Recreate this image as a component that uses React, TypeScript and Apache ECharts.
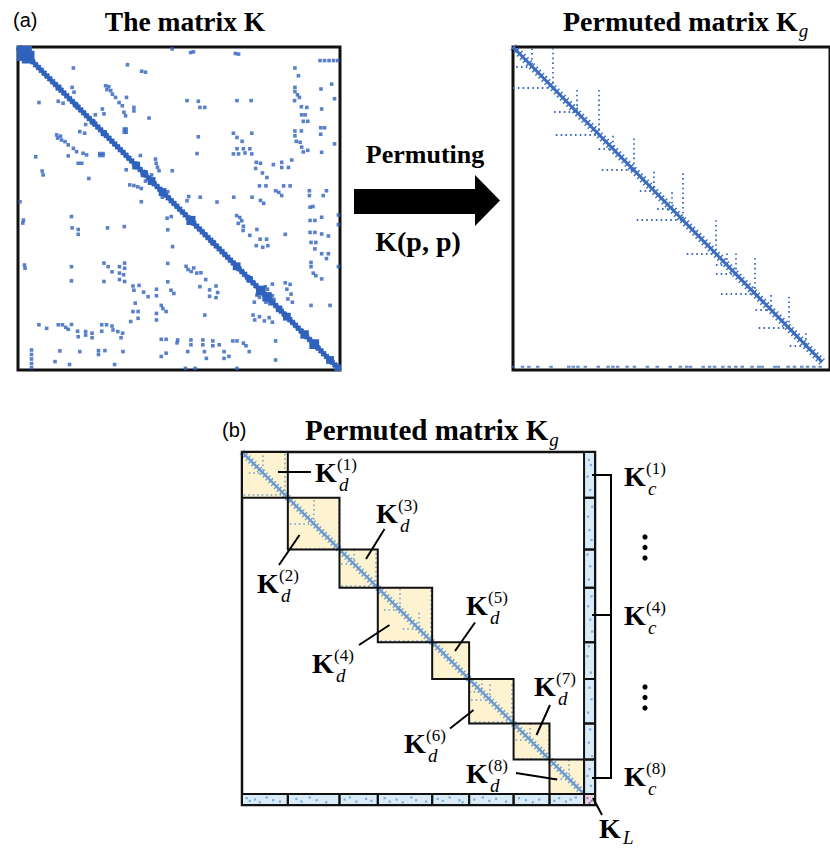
import React, { useEffect, useRef } from 'react';
import * as echarts from 'echarts';

const SERIF = '"Liberation Serif", "Times New Roman", Times, serif';
const SANS = '"Liberation Sans", Arial, Helvetica, sans-serif';

const BLUE = '#2f62bd';
const KG_BLUE = '#3b6cc0';
const PART_BLUE = '#6b9bd0';
const BLOCK_FILL = '#fdf3d0';
const STRIP_FILL = '#d8ebf7';
const CORNER_FILL = '#f1d5e6';

// ---------- (a) matrix K, coordinates in percent of the matrix order ----------
const kDiagonal = [[0, 0], [100, 100]];
// dense square clusters sitting on the diagonal: [first, last]
const kDiagBlocks = [
  [0, 4], [1.5, 4.8], [12, 13.2], [17.6, 18.5], [22.8, 23.8], [26, 27.3],
  [35.8, 37.6], [38.4, 40], [40.6, 42.4], [44, 45.8], [52.6, 54.8], [60, 61],
  [67, 68.8], [71.2, 72.6], [74.2, 76.6], [76.2, 78.5], [80.4, 81.8], [82.6, 84.4],
  [88, 90], [90.8, 93.2], [96, 97.8], [98.6, 100],
];
// off-diagonal entries of the upper triangle: [column, row]
const kUpperEntries = [
  [47.9, 0.6], [53.6, 1.7], [54.5, 1.5], [67.5, 2], [68.5, 2.2],
  [34, 5.5], [38.4, 7.5], [39.6, 7.8], [17.2, 6.5], [16.8, 12.5], [17.4, 14],
  [86, 6.5], [87.1, 8.9], [93.8, 4.2], [95.2, 4.2], [96.6, 4.2], [98, 4.2], [99.3, 4.2],
  [27.2, 12], [28.2, 12.3], [27.6, 13.2], [28.8, 13.5], [29.3, 14.6], [30.3, 15.6],
  [31.4, 17.2], [32.4, 18.2], [32.9, 20.2], [33.4, 21.3], [33.7, 15.6], [36, 18.7], [36, 19.8],
  [40.7, 22], [26.2, 19.2], [26.7, 20.7], [24, 21],
  [33, 25.4], [33.6, 25.4], [33, 26.4], [33.6, 26.4],
  [42.7, 34.7], [42.9, 36], [43.3, 37.2], [43.8, 38.3], [47.9, 38.3], [38, 33.6],
  [86, 12.5], [86, 13.8], [86.8, 14.8], [87.4, 15.6], [94.1, 13], [97.4, 11.5], [98.3, 16],
  [52.5, 16.6], [56, 16.8], [56.5, 18.7], [58, 18.7], [68, 16.6], [72.4, 16.6],
  [85.9, 16.6], [88, 18.5], [89.7, 18.7], [94.3, 19.2], [88.1, 21], [89.2, 21], [88.6, 23], [90, 23],
  [56, 27.8], [55.6, 33],
  [66.9, 26.7], [68, 28], [69.6, 29.2], [72.6, 26.7], [68, 31.5], [70, 31.5], [72, 31.5],
  [70.5, 32.8], [66.9, 33.1], [68.5, 33.1], [72.6, 33.1],
  [86, 26], [86, 27.5], [86.4, 29.2], [87.6, 29.5], [88, 26], [88.1, 31], [88.6, 32.5], [90, 32],
  [94, 25], [94, 27], [95.2, 25], [98.3, 30], [94.3, 32.6],
  [74, 35.7], [75.3, 36], [73.8, 37.6], [75.9, 39], [77.3, 40.4],
  [79.3, 36.4], [81.9, 35.7], [81.9, 37.3], [84, 37.3], [85, 35],
  [75, 43], [77, 43], [80, 44.5], [81, 45], [81.9, 46], [82.5, 43], [84.5, 43],
  [90.5, 44.5], [90.5, 46], [95.8, 44.5], [94.8, 46],
  [67, 46.5], [72.7, 46.5], [75.3, 47.5], [76.3, 48.4], [91.6, 49.4],
  [53, 46.3], [56.6, 46.5], [52.5, 47.6], [61.8, 48],
  [90.7, 49.6], [90.7, 53.7], [92.2, 53.7], [94.3, 52.7], [99.5, 52], [99.5, 55],
  [90.7, 57.4], [92.2, 57.4], [94.3, 57.9], [96.4, 58.5],
  [91, 60.5], [92.5, 60.5], [92.2, 62.5], [94.3, 64], [96.4, 64],
  [67.9, 52.2], [68.9, 52.8], [69.5, 53.8], [68.4, 54.6], [70, 55.5], [69.9, 56.8],
  [72, 58.3], [74.2, 56.5], [75.2, 59.5], [77.2, 59.5],
  [74, 61.5], [77.6, 61.5], [76, 62], [83, 58],
  [91, 66.7], [91, 68], [91.7, 70], [92.5, 70.8], [94.3, 71.8], [95.8, 65.5], [99.5, 68],
  [83, 73], [84.5, 73.5], [83.5, 75], [84.8, 76.5], [83.8, 78], [85.2, 79], [79, 73.4], [79, 77],
  [91, 80], [96.9, 80], [77.5, 75], [76.8, 74.2], [79.5, 78.2], [46.5, 44.8], [41.5, 39.6],
];

// ---------- (a) permuted matrix Kg, percent coordinates ----------
const kgDiagonal = [[0, 0], [97.5, 97.5]];
// fill-in runs: [pivot, first row of the column run, first column of the row run]
const kgSpikes = [
  [6, 0.4, 1], [12.6, 0.3, 0], [20, 13.3, 13], [27.2, 13.3, 13.5], [31.6, 27.5, 27],
  [38.1, 28.3, 28], [44.5, 38.6, 40], [50, 45, 45.5], [53.5, 39.1, 39], [63.9, 53.6, 54.8],
  [67.5, 63.9, 64], [70.2, 63.9, 64], [76.3, 65.4, 65.6], [81.2, 76.8, 76.5], [87, 77.3, 77.5],
  [92.5, 88.6, 87.3],
];
const kgCouplingRow = 99;
const kgCouplingCols = [
  0, 3, 5, 7.8, 12, 17.6, 19, 20.5, 22.8, 26.9, 30, 31.5, 33, 36, 38.3, 42.4, 45.5, 49.6,
  52.8, 54.8, 56, 60, 62, 63.6, 66.2, 68.2, 70.3, 72.3, 75.4, 77.5, 78.6, 82.6, 83.7, 86.8,
  88.8, 91.1, 92.9, 94.9, 96.9,
];

// ---------- (b) partitioned Kg: interior 0..1000, coupling strip 1000..1032 ----------
const blockEdges = [0, 134, 285, 397, 556, 664, 794, 899, 1000];
const stripEnd = 1032;
const partDiagonal = [[0, 0], [1000, 1000]];
const partSpikes = [
  [60, 10, 20], [125, 5, 5], [210, 140, 140], [282, 140, 145], [327, 285, 290],
  [392, 295, 290], [460, 400, 415], [518, 470, 470], [553, 405, 405], [662, 556, 570],
  [700, 664, 664], [723, 680, 670], [790, 680, 680], [840, 794, 800], [898, 800, 805],
  [955, 900, 905],
];
const bottomStripDots = [
  [14, 1012], [23, 1020], [38, 1016], [52, 1024], [72, 1010], [91, 1018], [111, 1022],
  [159, 1014], [174, 1022], [198, 1010], [218, 1018], [246, 1024],
  [300, 1016], [315, 1010], [334, 1022], [363, 1014], [378, 1020],
  [417, 1012], [432, 1022], [452, 1016], [470, 1024], [495, 1010], [509, 1018], [538, 1022],
  [572, 1014], [587, 1020], [607, 1010], [636, 1018], [645, 1024],
  [679, 1016], [704, 1010], [723, 1020], [743, 1014], [772, 1022],
  [810, 1012], [830, 1018], [850, 1024], [869, 1016],
  [913, 1020], [927, 1012], [947, 1022], [961, 1016], [976, 1010],
];
const rightStripDots = [
  [1014, 23], [1020, 38], [1010, 72], [1018, 111], [1024, 160], [1012, 189], [1016, 228],
  [1022, 257], [1010, 300], [1018, 334], [1014, 373], [1022, 422], [1012, 451], [1018, 490],
  [1024, 525], [1014, 568], [1010, 597], [1020, 645], [1016, 689], [1022, 723], [1012, 762],
  [1018, 811], [1014, 850], [1024, 889], [1016, 927], [1010, 947], [1020, 976],
];
const cornerDots = [[1010, 1012], [1022, 1020], [1016, 1026]];

function spikeLines(spikes: number[][]) {
  const out: any[] = [];
  spikes.forEach(([p, vStart, hStart]) => {
    out.push({ coords: [[p, vStart], [p, p]] });
    out.push({ coords: [[hStart, p], [p, p]] });
  });
  return out;
}

function textWidth(text: string, font: string) {
  const ctx = document.createElement('canvas').getContext('2d');
  if (!ctx) return text.length * 12;
  ctx.font = font;
  return ctx.measureText(text).width;
}

function txt(x: number, y: number, text: string, font: string, align = 'left') {
  return {
    type: 'text', z: 20, x, y,
    style: { text, font, fill: '#000', textAlign: align, textVerticalAlign: 'middle' },
  };
}

// bold K with an italic subscript and an optional superscript
function kSymbol(x: number, capTop: number, sub: string, sup?: string, subDrop = 21) {
  const els: any[] = [txt(x, capTop + 9.3, 'K', `bold 28px ${SERIF}`)];
  if (sup) els.push(txt(x + 22, capTop + 1.5, `(${sup})`, `17px ${SERIF}`));
  els.push(txt(x + 24, capTop + subDrop, sub, `italic 19px ${SERIF}`));
  return els;
}

function seg(x1: number, y1: number, x2: number, y2: number, w = 2) {
  return { type: 'line', z: 20, shape: { x1, y1, x2, y2 }, style: { stroke: '#000', lineWidth: w } };
}

function titleWithSub(x: number, y: number, size: number) {
  const font = `bold ${size}px ${SERIF}`;
  const main = 'Permuted matrix K';
  const w = textWidth(main, font);
  return [txt(x, y, main, font), txt(x + w + 1, y + 9.5, 'g', `italic 19px ${SERIF}`)];
}

function rectItem(fill: string | null, stroke: string | null, lw: number, pad = 0) {
  return (params: any, api: any) => {
    const p0 = api.coord([api.value(0), api.value(2)]);
    const p1 = api.coord([api.value(1), api.value(3)]);
    return {
      type: 'rect',
      shape: { x: p0[0] - pad, y: p0[1] - pad, width: p1[0] - p0[0] + 2 * pad, height: p1[1] - p0[1] + 2 * pad },
      style: { fill: fill || 'none', stroke: stroke || 'none', lineWidth: lw },
    };
  };
}

function buildOption() {
  const kPoints = kUpperEntries.flatMap(([c, r]) => [[c, r], [r, c]]);
  const kBlockRects = kDiagBlocks.map(([s, e]) => [s, e, s, e]);
  const blocks = blockEdges.slice(0, -1).map((s, i) => [s, blockEdges[i + 1], s, blockEdges[i + 1]]);
  const last = blockEdges[blockEdges.length - 1];
  const strips = [
    ...blockEdges.slice(0, -1).map((s, i) => [last, stripEnd, s, blockEdges[i + 1]]),
    ...blockEdges.slice(0, -1).map((s, i) => [s, blockEdges[i + 1], last, stripEnd]),
  ];
  const corner = [[last, stripEnd, last, stripEnd]];
  const kgCoupling = kgCouplingCols.map((c) => [c, kgCouplingRow]);

  const axisBase = { type: 'value', show: false, min: 0 };
  const rectEncode = { x: [0, 1], y: [2, 3] };

  const graphic: any[] = [
    txt(13, 20, '(a)', `20px ${SANS}`),
    txt(185, 21, 'The matrix K', `bold 27.5px ${SERIF}`, 'center'),
    ...titleWithSub(563, 21, 28),
    txt(425, 154.5, 'Permuting', `bold 26px ${SERIF}`, 'center'),
    { type: 'rect', z: 20, shape: { x: 354, y: 189, width: 122, height: 25 }, style: { fill: '#000' } },
    { type: 'polygon', z: 20, shape: { points: [[475, 175], [500, 200.5], [475, 226]] }, style: { fill: '#000' } },
    txt(418, 241, 'K(p, p)', `bold 28px ${SERIF}`, 'center'),
    txt(222, 430, '(b)', `20px ${SANS}`),
    ...titleWithSub(305, 430, 29),
    // block labels and their leaders
    ...kSymbol(315, 463, 'd', '1'), seg(278, 472, 311, 472),
    ...kSymbol(257, 574, 'd', '2'), seg(279, 565, 299.5, 535),
    ...kSymbol(376, 504, 'd', '3'), seg(366, 559, 384.5, 529),
    ...kSymbol(312, 654, 'd', '4'), seg(359, 645, 389.5, 625),
    ...kSymbol(466, 596, 'd', '5'), seg(455, 651, 475, 622.5),
    ...kSymbol(404, 734, 'd', '6'), seg(450, 728.5, 473.5, 710),
    ...kSymbol(534, 677, 'd', '7'), seg(536.5, 735, 550, 705),
    ...kSymbol(466, 764, 'd', '8'), seg(516, 773, 557, 779.5),
    // coupling blocks
    ...kSymbol(624, 467, 'c', '1'),
    ...kSymbol(624, 606, 'c', '4'),
    ...kSymbol(624, 767, 'c', '8'),
    seg(611, 474, 611, 779), seg(592, 475, 612, 475), seg(592, 615, 612, 615), seg(592, 778, 612, 778),
    ...[537, 547.5, 558, 687, 697.5, 708].map((cy) => ({
      type: 'circle', z: 20, shape: { cx: 645, cy, r: 2.6 }, style: { fill: '#000' },
    })),
    ...kSymbol(599, 819, 'L', undefined, 18), seg(593, 798, 602, 815),
  ];

  return {
    animation: false,
    backgroundColor: '#fff',
    grid: [
      { left: 18, top: 47, width: 322, height: 323, show: true, borderColor: '#111', borderWidth: 3, backgroundColor: '#fff' },
      { left: 513, top: 47, width: 323, height: 323, show: true, borderColor: '#111', borderWidth: 3, backgroundColor: '#fff' },
      { left: 242, top: 452, width: 353, height: 353, show: true, borderColor: '#111', borderWidth: 2.5, backgroundColor: '#fff' },
    ],
    xAxis: [
      { ...axisBase, gridIndex: 0, max: 100 },
      { ...axisBase, gridIndex: 1, max: 100 },
      { ...axisBase, gridIndex: 2, max: stripEnd },
    ],
    yAxis: [
      { ...axisBase, gridIndex: 0, max: 100, inverse: true },
      { ...axisBase, gridIndex: 1, max: 100, inverse: true },
      { ...axisBase, gridIndex: 2, max: stripEnd, inverse: true },
    ],
    series: [
      // ---- matrix K ----
      { type: 'line', xAxisIndex: 0, yAxisIndex: 0, data: kDiagonal, symbol: 'none', z: 2,
        lineStyle: { color: BLUE, width: 4.5 } },
      { type: 'line', xAxisIndex: 0, yAxisIndex: 0, data: kDiagonal, symbol: 'none', z: 2,
        lineStyle: { color: BLUE, width: 6.5, type: [2, 2] } },
      { type: 'custom', xAxisIndex: 0, yAxisIndex: 0, data: kBlockRects, encode: rectEncode, z: 2,
        renderItem: rectItem(BLUE, null, 0, 1) },
      { type: 'scatter', xAxisIndex: 0, yAxisIndex: 0, data: kPoints, symbol: 'rect', symbolSize: 3.6, z: 2,
        itemStyle: { color: BLUE } },
      // ---- permuted matrix Kg ----
      { type: 'line', xAxisIndex: 1, yAxisIndex: 1, data: kgDiagonal, symbol: 'none', z: 2,
        lineStyle: { color: KG_BLUE, width: 3 } },
      { type: 'line', xAxisIndex: 1, yAxisIndex: 1, data: kgDiagonal, symbol: 'none', z: 2,
        lineStyle: { color: KG_BLUE, width: 8, type: [1.4, 3] } },
      { type: 'lines', coordinateSystem: 'cartesian2d', xAxisIndex: 1, yAxisIndex: 1, z: 2,
        data: spikeLines(kgSpikes), lineStyle: { color: KG_BLUE, width: 1.8, type: [1.6, 3.2], opacity: 1 } },
      { type: 'scatter', xAxisIndex: 1, yAxisIndex: 1, data: kgCoupling, symbol: 'rect', symbolSize: [3.5, 2], z: 2,
        itemStyle: { color: KG_BLUE } },
      // ---- partitioned Kg ----
      { type: 'custom', xAxisIndex: 2, yAxisIndex: 2, data: blocks, encode: rectEncode, z: 1,
        renderItem: rectItem(BLOCK_FILL, null, 0) },
      { type: 'custom', xAxisIndex: 2, yAxisIndex: 2, data: strips, encode: rectEncode, z: 1,
        renderItem: rectItem(STRIP_FILL, null, 0) },
      { type: 'custom', xAxisIndex: 2, yAxisIndex: 2, data: corner, encode: rectEncode, z: 1,
        renderItem: rectItem(CORNER_FILL, null, 0) },
      { type: 'line', xAxisIndex: 2, yAxisIndex: 2, data: partDiagonal, symbol: 'none', z: 2,
        lineStyle: { color: PART_BLUE, width: 2.5 } },
      { type: 'line', xAxisIndex: 2, yAxisIndex: 2, data: partDiagonal, symbol: 'none', z: 2,
        lineStyle: { color: PART_BLUE, width: 7, type: [1.3, 2.7] } },
      { type: 'lines', coordinateSystem: 'cartesian2d', xAxisIndex: 2, yAxisIndex: 2, z: 2,
        data: spikeLines(partSpikes), lineStyle: { color: PART_BLUE, width: 1.5, type: [1.5, 3], opacity: 1 } },
      { type: 'scatter', xAxisIndex: 2, yAxisIndex: 2, data: [...bottomStripDots, ...rightStripDots], z: 2,
        symbol: 'rect', symbolSize: 2.2, itemStyle: { color: PART_BLUE } },
      { type: 'scatter', xAxisIndex: 2, yAxisIndex: 2, data: cornerDots, z: 2,
        symbol: 'rect', symbolSize: 2.2, itemStyle: { color: '#7a6bb8' } },
      { type: 'custom', xAxisIndex: 2, yAxisIndex: 2, data: [...blocks, ...strips, ...corner], encode: rectEncode, z: 3,
        renderItem: rectItem(null, '#111', 2) },
    ],
    graphic,
  };
}

export default function App() {
  const ref = useRef<HTMLDivElement>(null);
  useEffect(() => {
    if (!ref.current) return;
    const chart = echarts.init(ref.current, undefined, { renderer: 'svg' });
    chart.setOption(buildOption() as any);
    return () => chart.dispose();
  }, []);
  return (
    <div
      ref={ref}
      style={{ position: 'absolute', left: 0, top: 0, width: 830, height: 850, background: '#fff' }}
    />
  );
}
